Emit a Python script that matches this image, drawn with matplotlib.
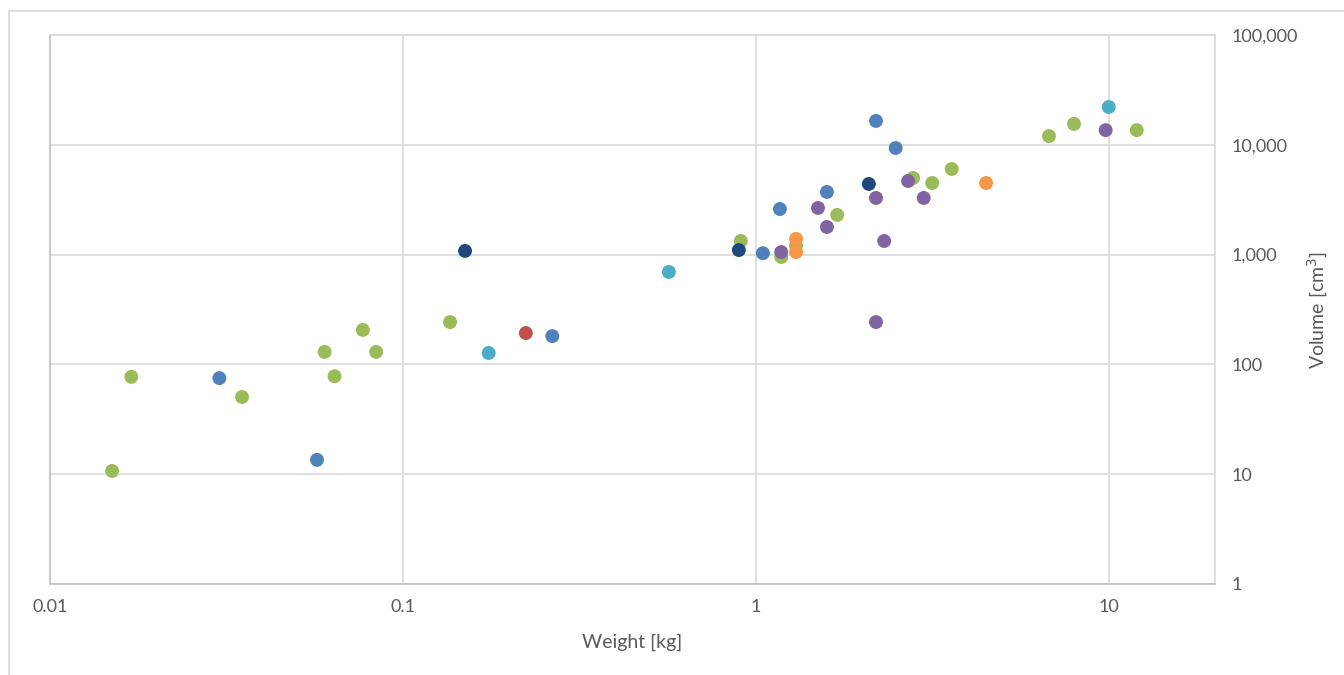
import matplotlib.pyplot as plt
from matplotlib.lines import Line2D
from matplotlib.ticker import FuncFormatter, NullLocator

# Data (weight in kg, volume in cm3), one group per colour
green_w = [0.015, 0.017, 0.035, 0.060, 0.064, 0.077, 0.084, 0.136, 0.907, 1.18, 1.30,
           1.70, 2.79, 3.16, 3.59, 6.77, 7.97, 12.0]
green_v = [10.7, 77, 50.5, 130, 78, 206, 130, 243, 1330, 950, 1200,
           2300, 4990, 4490, 6020, 12000, 15500, 13600]

blue_w = [0.0302, 0.0571, 0.265, 1.047, 1.17, 1.59, 2.19, 2.49]
blue_v = [75, 13.5, 181, 1030, 2600, 3720, 16500, 9350]

navy_w = [0.150, 0.895, 2.09]
navy_v = [1080, 1100, 4400]

teal_w = [0.175, 0.567, 10.0]
teal_v = [127, 695, 22100]

red_w = [0.223]
red_v = [193]

orange_w = [1.30, 1.30, 4.49]
orange_v = [1390, 1055, 4490]

purple_w = [1.18, 1.50, 1.59, 2.19, 2.19, 2.31, 2.70, 2.99, 9.8]
purple_v = [1055, 2660, 1785, 3280, 243, 1330, 4680, 3280, 13600]

groups = [
    (green_w, green_v, "#9BBB59"),
    (blue_w, blue_v, "#4F81BD"),
    (navy_w, navy_v, "#1F497D"),
    (teal_w, teal_v, "#4BACC6"),
    (red_w, red_v, "#C0504D"),
    (orange_w, orange_v, "#F79646"),
    (purple_w, purple_v, "#8064A2"),
]

plt.rcParams['font.family'] = ['Lato', 'DejaVu Sans']
W, H = 1344, 675
fig = plt.figure(figsize=(W / 100, H / 100), dpi=100)
fig.patch.set_facecolor("white")

# outer chart frame
fig.add_artist(Line2D([9 / W, 9 / W], [0, 1 - 11 / H], transform=fig.transFigure,
                      color="#D9D9D9", lw=1.2))
fig.add_artist(Line2D([9 / W, 1], [1 - 11 / H, 1 - 11 / H], transform=fig.transFigure,
                      color="#D9D9D9", lw=1.2))

ax = fig.add_axes([50 / W, (H - 584) / H, (1215 - 50) / W, (584 - 35) / H])
ax.set_xscale("log")
ax.set_yscale("log")
ax.set_xlim(0.01, 20)
ax.set_ylim(1, 100000)

for w, v, c in groups:
    ax.scatter(w, v, s=100, color=c, edgecolors="none", zorder=3)

ax.set_xticks([0.01, 0.1, 1, 10])
ax.set_xticklabels(["0.01", "0.1", "1", "10"])
ax.set_yticks([1, 10, 100, 1000, 10000, 100000])
ax.yaxis.set_major_formatter(FuncFormatter(lambda v, p: f"{v:,.0f}"))
ax.xaxis.set_minor_locator(NullLocator())
ax.yaxis.set_minor_locator(NullLocator())
ax.yaxis.tick_right()
ax.tick_params(axis="both", length=0, labelsize=13, labelcolor="#595959")
ax.tick_params(axis="x", pad=11)
ax.tick_params(axis="y", pad=12)

ax.grid(True, color="#D9D9D9", lw=1.2)
ax.set_axisbelow(True)
for side in ["top", "right"]:
    ax.spines[side].set_color("#D9D9D9")
    ax.spines[side].set_linewidth(1.2)
for side in ["left", "bottom"]:
    ax.spines[side].set_color("#BFBFBF")
    ax.spines[side].set_linewidth(1.2)

fig.text(632 / W, 1 - 642 / H, "Weight [kg]", ha="center", va="center",
         fontsize=14, color="#595959")
fig.text(1318 / W, 1 - 310 / H, "Volume [cm$^3$]", ha="center", va="center",
         rotation=90, fontsize=14, color="#595959")

fig.savefig("out.png", dpi=100)
